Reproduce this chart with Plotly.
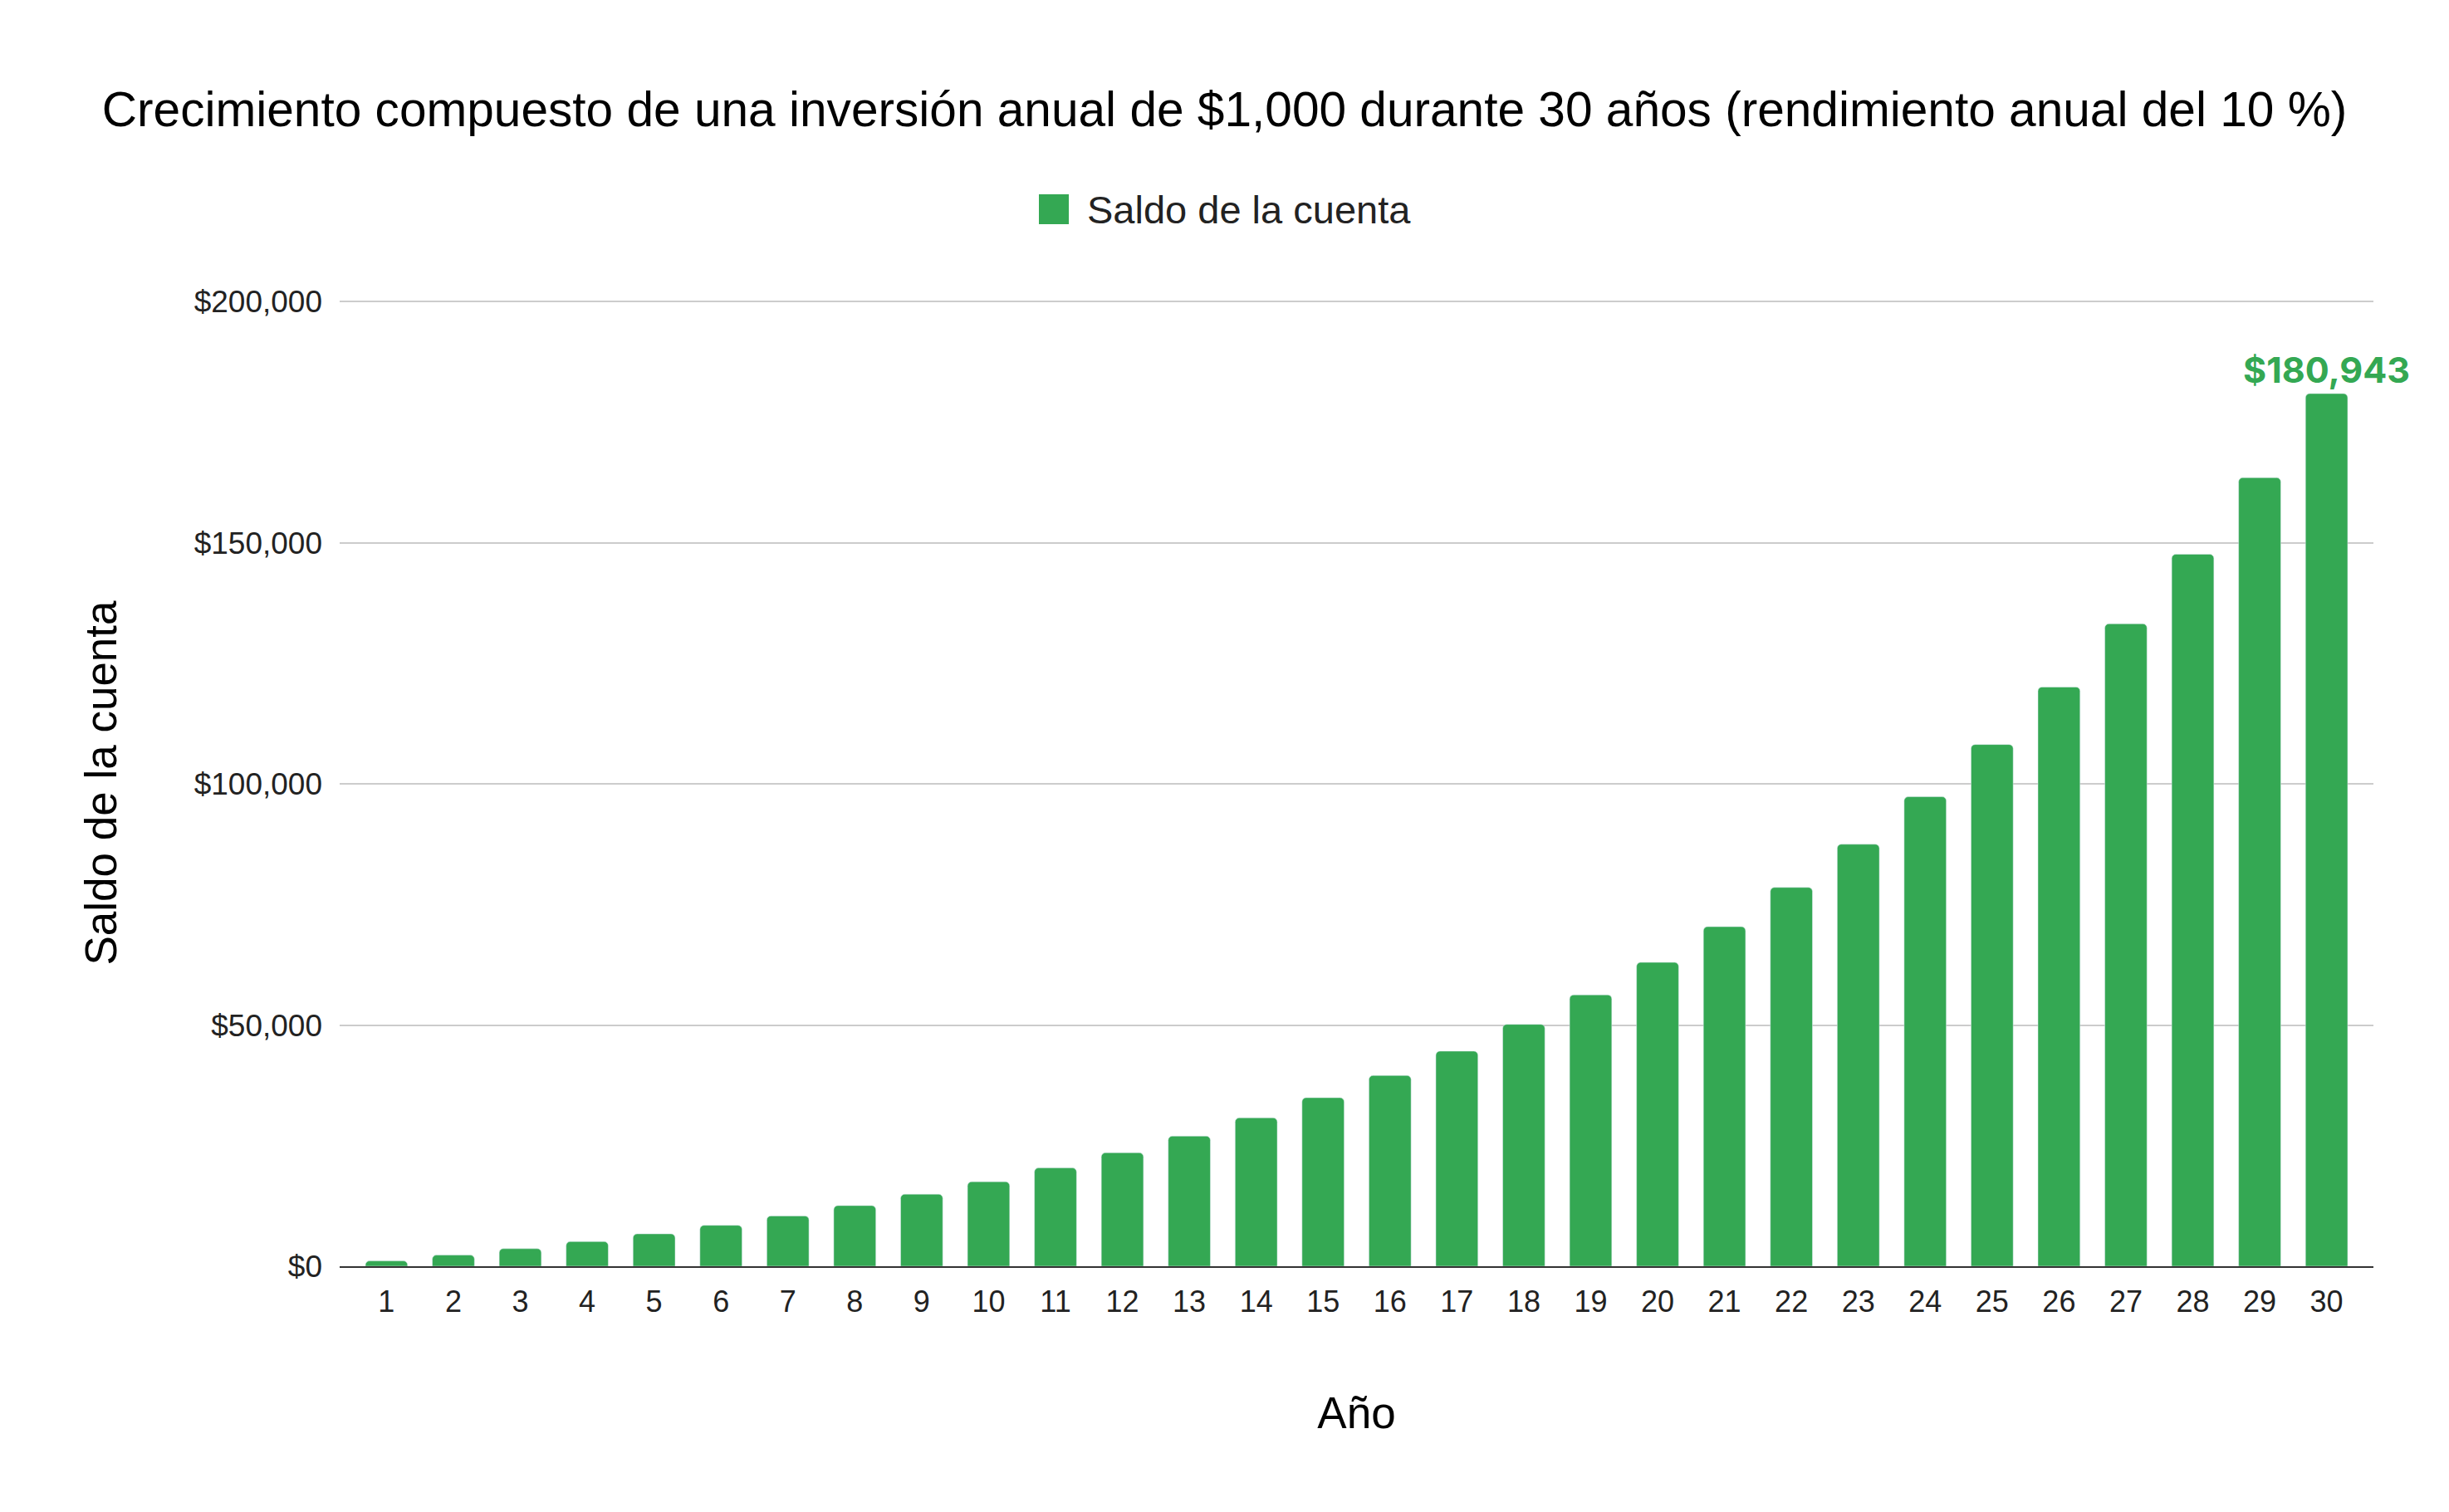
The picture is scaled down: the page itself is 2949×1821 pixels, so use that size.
import plotly.graph_objects as go

# Saldo al final de cada año (aporte de $1,000 al inicio de cada año, 10 % anual)
years = list(range(1, 31))
balances = [1100, 2310, 3641, 5105, 6716, 8487, 10436, 12579, 14937, 17531,
            20384, 23523, 26975, 30772, 34950, 39545, 44599, 50159, 56275, 63002,
            70403, 78543, 87497, 97347, 108182, 120100, 133210, 147631, 163494, 180943]
y_ticks = [0, 50000, 100000, 150000, 200000]
y_tick_labels = [f"${v:,}" for v in y_ticks]

series_name = "Saldo de la cuenta"
bar_color = "#34a853"
text_font = "Arial, Liberation Sans, sans-serif"

# only the final year carries a data label
bar_text = ["" for _ in balances]
bar_text[-1] = f"${balances[-1]:,.0f}"

# page body has an 8px margin, so everything is placed 8px up/left
W, H = 2949 - 16, 1821 - 16
plot_l, plot_r, plot_t, plot_b = 409 - 8, 2858 - 8, 361 - 8, 1525 - 8

fig = go.Figure()
fig.add_trace(
    go.Bar(name=series_name,
           x=years,
           y=balances,
           width=0.63,
           marker=dict(color=bar_color, cornerradius=5),
           text=bar_text,
           textposition='outside',
           constraintext='none',
           cliponaxis=False,
           textfont=dict(family="Inter, Roboto, sans-serif", size=43, color=bar_color, weight='bold'),
           showlegend=False)
)


def px_x(px):
    return (px - 8 - plot_l) / (plot_r - plot_l)


def px_y(py):
    return (plot_b - (py - 8)) / (plot_b - plot_t)


# legend drawn at the reference size (square + label above the plot)
fig.add_shape(type='rect', xref='paper', yref='paper',
              x0=px_x(1251), x1=px_x(1287), y0=px_y(270), y1=px_y(234),
              fillcolor=bar_color, line=dict(width=0))
fig.add_annotation(text=series_name, xref='paper', yref='paper',
                   x=px_x(1307), y=px_y(252), xanchor='left', yanchor='middle',
                   showarrow=False, font=dict(family=text_font, size=47, color='#222222'))

fig.update_layout(
    width=W, height=H,
    margin=dict(l=plot_l, r=W - plot_r, t=plot_t, b=H - plot_b, pad=0),
    paper_bgcolor='white', plot_bgcolor='white',
    font=dict(family=text_font, color='black'),
    title=dict(text="Crecimiento compuesto de una inversión anual de $1,000 durante 30 años (rendimiento anual del 10 %)",
               x=0.5, xanchor='center', xref='container',
               y=1 - (131 - 8) / H, yanchor='middle', yref='container',
               font=dict(family=text_font, size=58.6, color='black')),
    showlegend=False,
)

fig.update_xaxes(range=[0.3, 30.7], tickvals=years, ticktext=[str(y) for y in years],
                 showgrid=False, zeroline=False, ticks='',
                 showline=True, linecolor='#333333', linewidth=2,
                 tickfont=dict(size=36, color='#222222'), ticklabelstandoff=10,
                 title=dict(text="Año", font=dict(size=53, color='black'), standoff=96))
fig.update_yaxes(range=[0, 200400], tickvals=y_ticks, ticktext=y_tick_labels,
                 showgrid=True, gridcolor='#cccccc', gridwidth=2, zeroline=False,
                 ticks='', showline=False,
                 tickfont=dict(size=37, color='#222222'), ticklabelstandoff=20,
                 title=dict(text=series_name, font=dict(size=53, color='black'), standoff=76))

fig.write_html("out.html")
